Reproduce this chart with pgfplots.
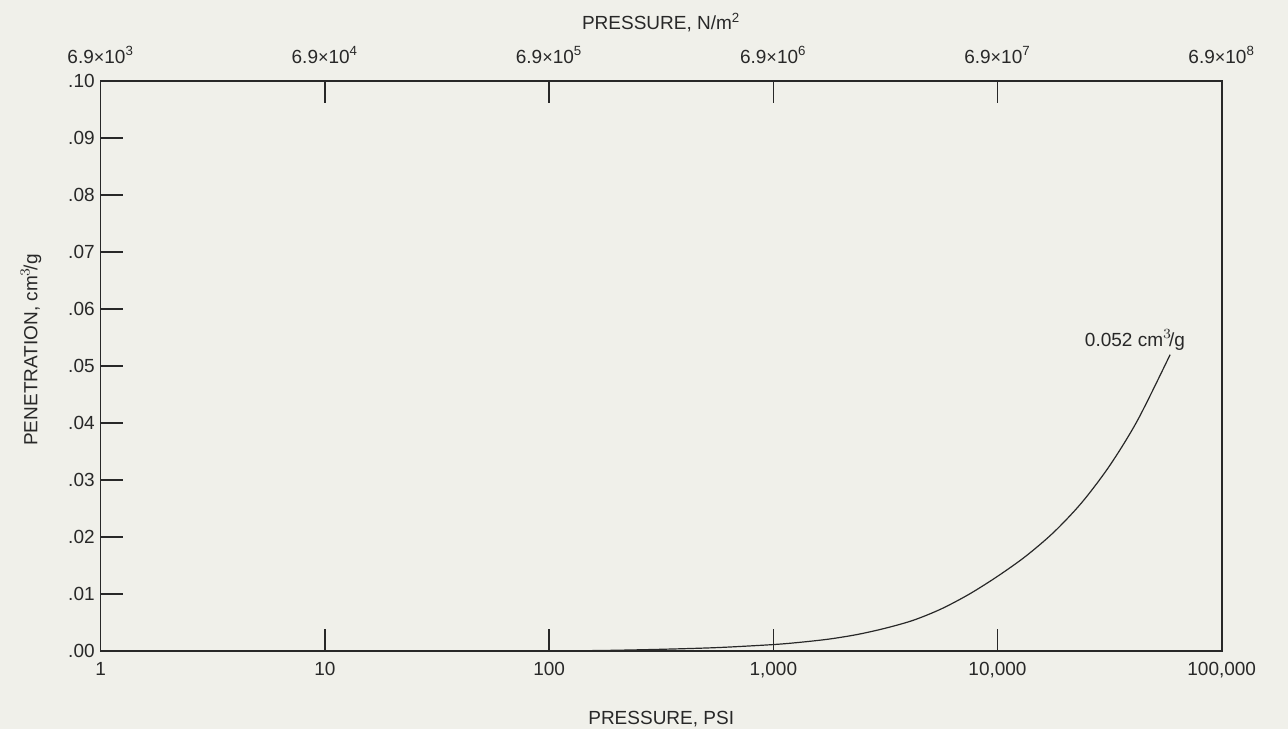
\documentclass[border=0pt]{standalone}
\usepackage{fontspec}
\setmainfont{Liberation Sans}
\usepackage{pgfplots}
\pgfplotsset{compat=1.18}
\definecolor{bg}{RGB}{240,240,234}
\definecolor{ink}{RGB}{40,40,40}
\begin{document}
\begin{tikzpicture}
\path[fill=bg,use as bounding box] (-50.35pt,-39pt) rectangle (593.65pt,325.5pt);
\begin{axis}[
  at={(0,0)}, anchor=south west,
  scale only axis, width=560.5pt, height=285pt,
  xmode=log, xmin=1, xmax=100000, ymin=0, ymax=0.1,
  xminorticks=false, yminorticks=false,
  axis line style={ink, line width=0.8pt},
  every tick/.style={ink, line width=0.8pt},
  tick align=inside, major tick length=11pt,
  xtick pos=both, ytick pos=left,
  xtick={1,10,100,1000,10000,100000},
  xticklabels={1,10,100,{1,000},{10,000},{100,000}},
  ytick={0,0.01,0.02,0.03,0.04,0.05,0.06,0.07,0.08,0.09,0.1},
  yticklabels={.00,.01,.02,.03,.04,.05,.06,.07,.08,.09,.10},
  /pgf/number format/assume math mode=true,
  ticklabel style={font=\fontsize{9.5}{11}\selectfont, text=ink},
  xticklabel style={anchor=base, yshift=-12pt},
  yticklabel style={anchor=east, xshift=0.5pt},
  xlabel={PRESSURE, PSI},
  xlabel style={at={(axis description cs:0.5,0)}, anchor=base, yshift=-36.5pt, font=\fontsize{9.5}{11}\selectfont, text=ink},
  ylabel={PENETRATION, cm$^3\!$/g},
  ylabel style={at={(axis description cs:-0.0622,0.528)}, anchor=center, font=\fontsize{9.5}{11}\selectfont, text=ink},
]
\addplot[ink, line width=0.6pt, smooth] coordinates {
  (100,0) (177.8,0.0001) (316.2,0.0003) (562.3,0.0006) (1000,0.00113)
  (1333.5,0.00155) (1778,0.0021) (2371.4,0.0029) (3162,0.0040)
  (4217,0.0054) (5623,0.0074) (7499,0.0100) (10000,0.0131)
  (13335,0.0166) (17783,0.0208) (23714,0.0260) (31623,0.0325)
  (42170,0.0405) (58884,0.0520)
};
\node[font=\fontsize{9.5}{11}\selectfont, text=ink] at (axis cs:41000,0.0546) {0.052 cm$^3\!$/g};
\end{axis}
\begin{axis}[
  at={(0,0)}, anchor=south west,
  scale only axis, width=560.5pt, height=285pt,
  xmode=log, xmin=1, xmax=100000, ymin=0, ymax=0.1,
  xminorticks=false,
  axis x line*=top, hide y axis,
  axis line style={draw=none},
  major tick length=0pt,
  xtick={1,10,100,1000,10000,100000},
  xticklabels={6.9{\small×}10\textsuperscript{3},6.9{\small×}10\textsuperscript{4},6.9{\small×}10\textsuperscript{5},6.9{\small×}10\textsuperscript{6},6.9{\small×}10\textsuperscript{7},6.9{\small×}10\textsuperscript{8}},
  /pgf/number format/assume math mode=true,
  xticklabel style={anchor=base, yshift=8.85pt, font=\fontsize{9.5}{11}\selectfont, text=ink},
  title={PRESSURE, N/m\textsuperscript{2}},
  title style={at={(axis description cs:0.5,1)}, anchor=base, yshift=19.5pt, font=\fontsize{9.5}{11}\selectfont, text=ink},
]
\addplot[draw=none] coordinates {(1,0) (100000,0.1)};
\end{axis}
\end{tikzpicture}
\end{document}
